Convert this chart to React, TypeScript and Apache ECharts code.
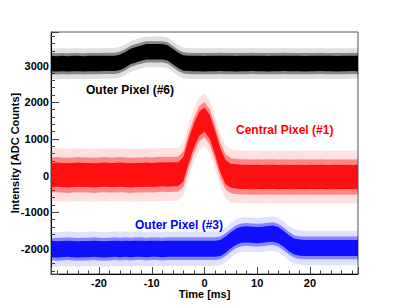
import React, { useEffect, useRef } from "react";
import * as echarts from "echarts";

// Time axis of the traces [ms]
const TIME_MS = [
  -30, -29, -28, -27, -26, -25, -24, -23, -22, -21, -20, -19, -18, -17, -16, -15, -14, -13, -12, -11,
  -10, -9, -8, -7, -6, -5, -4, -3, -2, -1, 0, 1, 2, 3, 4, 5, 6, 7, 8, 9,
  10, 11, 12, 13, 14, 15, 16, 17, 18, 19, 20, 21, 22, 23, 24, 25, 26, 27, 28, 29, 30,
];

// Centre of the scatter band of each pixel trace [ADC counts]
const OUTER6_CENTER = [
  3060, 3060, 3050, 3060, 3050, 3060, 3060, 3050, 3060, 3060, 3060, 3065, 3065, 3065, 3095, 3165, 3255, 3300, 3345, 3380,
  3380, 3380, 3380, 3350, 3250, 3145, 3075, 3065, 3060, 3060, 3055, 3060, 3060, 3065, 3060, 3060, 3055, 3060, 3060, 3065,
  3060, 3060, 3055, 3060, 3060, 3065, 3060, 3060, 3060, 3055, 3060, 3060, 3065, 3060, 3060, 3055, 3060, 3060, 3065, 3060, 3060,
];

const CENTRAL1_CENTER = [
  20, 20, 30, 20, 10, 20, 30, 20, 20, 10, 20, 30, 20, 20, 30, 20, 10, 20, 20, 30,
  20, 30, 40, 30, 40, 40, 180, 680, 1100, 1420, 1530, 1330, 900, 420, 100, 0, -20, -30, -30, -40,
  -30, -40, -30, -30, -40, -30, -40, -40, -30, -40, -30, -40, -30, -40, -40, -30, -40, -30, -40, -30, -30,
];

const OUTER3_CENTER = [
  -2000, -2000, -2010, -2000, -1990, -2000, -2010, -2000, -2000, -1990, -2000, -2010, -2000, -1990, -2000, -1990, -2000, -1990, -1990, -2000,
  -1990, -1990, -2000, -1990, -1990, -1990, -1990, -1990, -1990, -1990, -1990, -1990, -1990, -1970, -1880, -1760, -1660, -1610, -1600, -1610,
  -1620, -1610, -1590, -1580, -1620, -1720, -1840, -1930, -1960, -1970, -1970, -1970, -1970, -1970, -1970, -1970, -1970, -1970, -1970, -1970, -1970,
];

// Half widths of the dense core, the body and the sparse halo of each band [ADC counts]
const OUTER6_SPREAD = [210, 290, 420];
const CENTRAL1_SPREAD = [330, 480, 720];
const OUTER3_SPREAD = [220, 310, 470];

const LABELS = ["Outer Pixel (#6)", "Central Pixel (#1)", "Outer Pixel (#3)"];

const FONT = '"Liberation Sans", Arial, Helvetica, sans-serif';
const LAYER_OPACITY = [0.12, 0.4, 1];

function bandLayer(centers: number[], half: number, color: string, opacity: number) {
  return {
    type: "custom",
    clip: true,
    silent: true,
    data: [[0, 0]],
    renderItem: (_params: any, api: any) => {
      const upper = TIME_MS.map((t, i) => api.coord([t, centers[i] + half]));
      const lower = TIME_MS.map((t, i) => api.coord([t, centers[i] - half])).reverse();
      return {
        type: "polygon",
        shape: { points: upper.concat(lower) },
        style: { fill: color, opacity },
      };
    },
  };
}

function bandSeries(centers: number[], spread: number[], color: string, coreOpacity: number) {
  return spread
    .slice()
    .reverse()
    .map((half, k) => bandLayer(centers, half, color, k === 2 ? coreOpacity : LAYER_OPACITY[k]));
}

const tickLabel = {
  color: "#000",
  fontWeight: "bold",
  fontSize: 11,
  fontFamily: FONT,
  showMinLabel: false,
  showMaxLabel: false,
};

export default function App() {
  const ref = useRef<HTMLDivElement>(null);
  useEffect(() => {
    if (!ref.current) return;
    const chart = echarts.init(ref.current, null, { renderer: "svg" });
    const option: any = {
      animation: false,
      backgroundColor: "#fff",
      grid: {
        left: 51,
        right: 41,
        top: 32,
        bottom: 31,
        containLabel: false,
        outerBoundsMode: "none",
        show: true,
        borderColor: "#555",
        borderWidth: 1,
      },
      xAxis: {
        type: "value",
        min: -29.1,
        max: 29.1,
        minInterval: 10,
        maxInterval: 10,
        axisLine: { show: true, onZero: false, lineStyle: { color: "#000", width: 1 } },
        axisTick: { show: true, inside: true, length: 7, lineStyle: { color: "#444" } },
        minorTick: { show: true, splitNumber: 5, length: 3.5, lineStyle: { color: "#444" } },
        splitLine: { show: false },
        minorSplitLine: { show: false },
        axisLabel: {
          ...tickLabel,
          margin: 3,
          formatter: (v: number) => (Math.abs(v % 10) < 1e-6 ? String(Math.round(v)) : ""),
        },
        name: "Time [ms]",
        nameLocation: "middle",
        nameGap: 14,
        nameMoveOverlap: false,
        nameTextStyle: { color: "#000", fontWeight: "bold", fontSize: 11, fontFamily: FONT },
      },
      yAxis: {
        type: "value",
        min: -2680,
        max: 3920,
        minInterval: 1000,
        maxInterval: 1000,
        axisLine: { show: true, onZero: false, lineStyle: { color: "#000", width: 1 } },
        axisTick: { show: true, inside: true, length: 8, lineStyle: { color: "#444" } },
        minorTick: { show: true, splitNumber: 5, length: 4, lineStyle: { color: "#444" } },
        splitLine: { show: false },
        minorSplitLine: { show: false },
        axisLabel: {
          ...tickLabel,
          margin: 2,
          formatter: (v: number) => (Math.abs(v % 1000) < 1e-6 ? String(Math.round(v)) : ""),
        },
        name: "Intensity [ADC Counts]",
        nameLocation: "middle",
        nameGap: 31,
        nameMoveOverlap: false,
        nameTextStyle: { color: "#000", fontWeight: "bold", fontSize: 11, fontFamily: FONT },
      },
      series: [
        ...bandSeries(OUTER6_CENTER, OUTER6_SPREAD, "#000000", 1),
        ...bandSeries(CENTRAL1_CENTER, CENTRAL1_SPREAD, "#ff0000", 0.88),
        ...bandSeries(OUTER3_CENTER, OUTER3_SPREAD, "#0000ff", 0.88),
      ],
      graphic: [
        {
          type: "text",
          x: 86,
          y: 90,
          style: { text: LABELS[0], fill: "#000", font: `bold 12px ${FONT}`, verticalAlign: "middle" },
        },
        {
          type: "text",
          x: 236,
          y: 130,
          style: { text: LABELS[1], fill: "#ff0000", font: `bold 12px ${FONT}`, verticalAlign: "middle" },
        },
        {
          type: "text",
          x: 135,
          y: 225,
          style: { text: LABELS[2], fill: "#0000ff", font: `bold 12px ${FONT}`, verticalAlign: "middle" },
        },
      ],
    };
    chart.setOption(option);
    return () => chart.dispose();
  }, []);
  return (
    <div
      ref={ref}
      style={{ position: "absolute", left: 0, top: 0, width: 399, height: 305 }}
    />
  );
}
